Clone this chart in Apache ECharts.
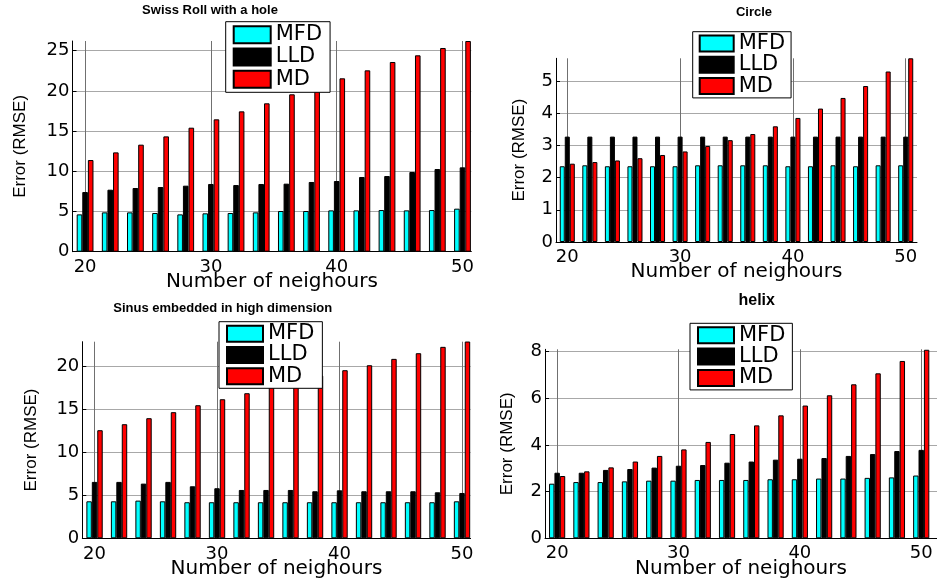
<!DOCTYPE html>
<html><head><meta charset="utf-8">
<script src="https://cdn.jsdelivr.net/npm/echarts@6/dist/echarts.min.js"></script>
<style>html,body{margin:0;padding:0;background:#fff}#c{width:937px;height:584px}</style>
</head><body><div id="c"></div>
<script>
const neighbours = [20,22,24,26,28,30,32,34,36,38,40,42,44,46,48,50];
const xTicks = [20,30,40,50];
const seriesNames = ['MFD','LLD','MD'];
const seriesColors = ['#00FFFF','#000000','#FF0000'];
const panelTitles = ['Swiss Roll with a hole','Circle','Sinus embedded in high dimension','helix'];
const xName = 'Number of neighours';
const yName = 'Error (RMSE)';

const swissMFD = [4.64,4.89,4.89,4.81,4.64,4.77,4.81,4.89,5.06,5.06,5.14,5.14,5.18,5.14,5.18,5.35];
const swissLLD = [7.42,7.71,7.92,8.04,8.21,8.42,8.29,8.42,8.46,8.67,8.79,9.29,9.41,9.91,10.28,10.49];
const swissMD  = [11.40,12.35,13.31,14.34,15.42,16.46,17.45,18.45,19.57,20.5,21.56,22.55,23.59,24.42,25.33,26.2];
const swissYTicks = [0,5,10,15,20,25];

const circleMFD = [2.35,2.38,2.35,2.35,2.35,2.35,2.38,2.38,2.38,2.38,2.35,2.35,2.38,2.35,2.38,2.38];
const circleLLD = [3.27,3.27,3.27,3.27,3.27,3.27,3.27,3.27,3.27,3.27,3.27,3.27,3.27,3.27,3.27,3.27];
const circleMD  = [2.43,2.48,2.53,2.60,2.70,2.81,2.98,3.16,3.35,3.59,3.85,4.14,4.47,4.84,5.29,5.70];
const circleYTicks = [0,1,2,3,4,5];

const sinusMFD = [4.31,4.31,4.39,4.31,4.20,4.20,4.20,4.20,4.20,4.20,4.20,4.20,4.20,4.20,4.20,4.31];
const sinusLLD = [6.57,6.57,6.37,6.57,6.06,5.83,5.63,5.63,5.63,5.48,5.59,5.48,5.48,5.48,5.36,5.28];
const sinusMD  = [12.59,13.29,13.99,14.69,15.50,16.20,16.90,17.6,18.3,18.95,19.58,20.16,20.90,21.56,22.30,22.92];
const sinusYTicks = [0,5,10,15,20];

const helixMFD = [2.34,2.41,2.41,2.44,2.47,2.47,2.50,2.50,2.50,2.53,2.53,2.56,2.56,2.59,2.61,2.69];
const helixLLD = [2.81,2.81,2.93,2.97,3.03,3.11,3.14,3.24,3.29,3.37,3.41,3.44,3.53,3.61,3.74,3.79];
const helixMD  = [2.67,2.87,3.04,3.29,3.53,3.81,4.13,4.47,4.84,5.27,5.69,6.13,6.60,7.07,7.60,8.08];
const helixYTicks = [0,2,4,6,8];

const panelData = [
  [swissMFD, swissLLD, swissMD],
  [circleMFD, circleLLD, circleMD],
  [sinusMFD, sinusLLD, sinusMD],
  [helixMFD, helixLLD, helixMD]
];
const panelYTicks = [swissYTicks, circleYTicks, sinusYTicks, helixYTicks];

// layout (pixels)
const layout = [
  {grid:{left:72.5, top:41, width:398.8, height:210.7}, xMin:19, xMax:50.7, yMax:26.2, yGap:44, labM:7,
   title:{x:210, y:4, size:13}, legend:{left:225.7, top:21.7, iw:37, ih:17, gap:1.3, pad:[2.5,8,2.5,7]}},
  {grid:{left:556, top:58.3, width:361, height:183.7}, xMin:19, xMax:51, yMax:5.7, yGap:28, labM:6,
   title:{x:754, y:6, size:13}, legend:{left:692.7, top:31.7, iw:34, ih:16, gap:0.3, pad:[1.3,6,1.3,6]}},
  {grid:{left:82.3, top:341.7, width:388.3, height:196.6}, xMin:19, xMax:50.7, yMax:22.9, yGap:42, labM:7,
   title:{x:222.7, y:301.5, size:13}, legend:{left:219, top:321.7, iw:36, ih:16, gap:0.3, pad:[1.5,8,1.5,7]}},
  {grid:{left:545, top:349.3, width:392, height:189}, xMin:19, xMax:51.3, yMax:8.1, yGap:29, labM:6,
   title:{x:756.7, y:293, size:16}, legend:{left:690, top:323.3, iw:36, ih:16, gap:0.3, pad:[1.5,7,1.5,7]}}
];

const grids=[], xAxes=[], yAxes=[], series=[], titles=[], legends=[];
layout.forEach((L, p) => {
  grids.push(Object.assign({containLabel:false}, L.grid));
  xAxes.push({
    type:'value', gridIndex:p, min:L.xMin, max:L.xMax,
    name:xName, nameLocation:'middle', nameGap:20, nameMoveOverlap:false,
    nameTextStyle:{fontFamily:'DejaVu Sans', fontSize:20, color:'#000'},
    axisLine:{show:true, onZero:false, lineStyle:{color:'#000', width:1}},
    axisTick:{show:true, inside:true, length:4, customValues:xTicks, lineStyle:{color:'#000'}},
    axisLabel:{customValues:xTicks, fontFamily:'DejaVu Sans', fontSize:18, color:'#000', margin:L.labM},
    splitLine:{show:true, lineStyle:{color:'#707070', width:1}}
  });
  yAxes.push({
    type:'value', gridIndex:p, min:0, max:L.yMax,
    name:yName, nameLocation:'middle', nameGap:L.yGap, nameMoveOverlap:false,
    nameTextStyle:{fontFamily:'Liberation Sans', fontSize:17, color:'#000'},
    axisLine:{show:true, lineStyle:{color:'#000', width:1}},
    axisTick:{show:true, inside:true, length:4, customValues:panelYTicks[p], lineStyle:{color:'#000'}},
    axisLabel:{customValues:panelYTicks[p], fontFamily:'DejaVu Sans', fontSize:18, color:'#000', margin:3},
    splitLine:{show:true, lineStyle:{color:'#a8a8a8', width:1}}
  });
  panelData[p].forEach((vals, s) => {
    series.push({
      type:'bar', name:seriesNames[s], xAxisIndex:p, yAxisIndex:p,
      data: neighbours.map((n, i) => [n, vals[i]]),
      barGap:'0%', barCategoryGap:'33.3%',
      itemStyle:{color:seriesColors[s], borderColor:'#000', borderWidth:1},
      emphasis:{disabled:true}, animation:false
    });
  });
  titles.push({
    text:panelTitles[p], left:L.title.x, top:L.title.y, textAlign:'center', padding:0,
    textStyle:{fontFamily:'Liberation Sans', fontWeight:'bold', fontSize:L.title.size, color:'#000'}
  });
  legends.push({
    data:seriesNames, orient:'vertical', left:L.legend.left, top:L.legend.top,
    itemWidth:L.legend.iw, itemHeight:L.legend.ih, itemGap:L.legend.gap, padding:L.legend.pad,
    backgroundColor:'#fff', borderColor:'#000', borderWidth:1, borderRadius:0,
    icon:'rect', selectedMode:false,
    textStyle:{fontFamily:'DejaVu Sans', fontSize:21, color:'#000'}
  });
});

const chart = echarts.init(document.getElementById('c'), null, {renderer:'canvas'});
chart.setOption({
  animation:false,
  backgroundColor:'#fff',
  title:titles, legend:legends, grid:grids, xAxis:xAxes, yAxis:yAxes, series:series
});
</script></body></html>
